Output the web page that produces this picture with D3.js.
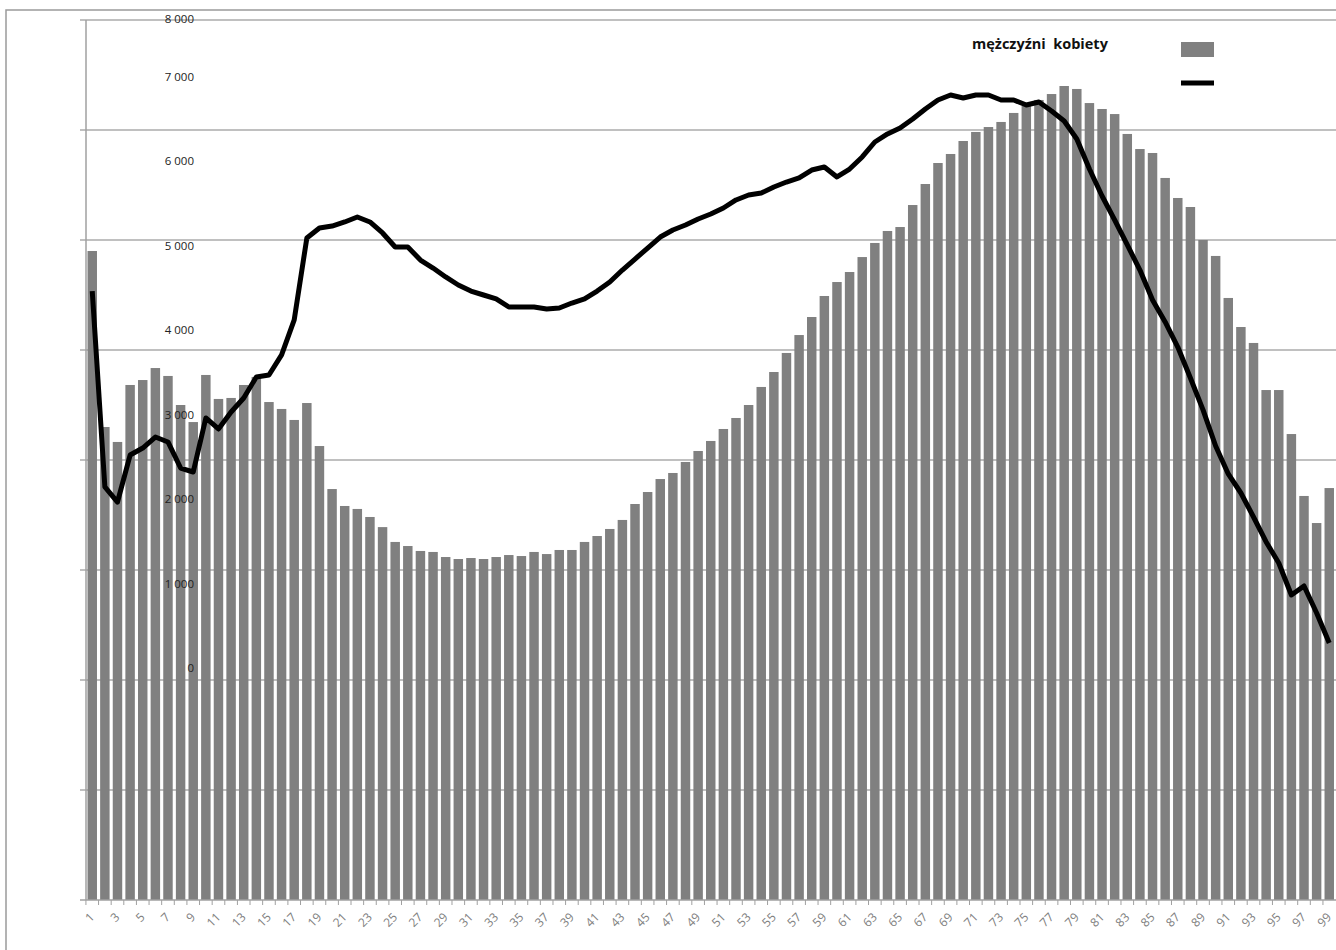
<!DOCTYPE html>
<html>
<head>
<meta charset="utf-8">
<script src="https://cdnjs.cloudflare.com/ajax/libs/d3/7.8.5/d3.min.js"></script>
<style>
  body { margin: 0; background: #fff; }
  text { font-family: "Open Sans", "Liberation Sans", sans-serif; }
</style>
</head>
<body>
<svg></svg>
<script>
var WIDTH = 1336;
var HEIGHT = 950;

// wiek 1..99
var categories = d3.range(1, 100);

// mezczyzni (slupki)
var menValues = [
  5900, 4300, 4164, 4682, 4727, 4836, 4764, 4500, 4345, 4773,
  4555, 4564, 4682, 4755, 4527, 4464, 4364, 4518, 4127, 3736,
  3582, 3555, 3482, 3390, 3255, 3218, 3173, 3164, 3118, 3100,
  3109, 3100, 3118, 3136, 3127, 3164, 3145, 3182, 3182, 3255,
  3309, 3373, 3455, 3600, 3709, 3827, 3882, 3982, 4082, 4173,
  4282, 4382, 4500, 4664, 4800, 4973, 5136, 5300, 5491, 5618,
  5709, 5845, 5973, 6082, 6118, 6318, 6509, 6700, 6782, 6900,
  6982, 7027, 7073, 7155, 7218, 7273, 7327, 7400, 7373, 7245,
  7191, 7145, 6964, 6827, 6791, 6564, 6382, 6300, 6000, 5855,
  5473, 5209, 5064, 4636, 4636, 4236, 3673, 3427, 3745
];

// kobiety (linia)
var womenValues = [
  5536, 3755, 3618, 4045, 4109, 4209, 4164, 3927, 3891, 4382,
  4282, 4436, 4564, 4755, 4773, 4955, 5273, 6018, 6109, 6127,
  6164, 6209, 6164, 6064, 5936, 5936, 5818, 5745, 5664, 5591,
  5536, 5500, 5464, 5391, 5391, 5391, 5373, 5382, 5427, 5464,
  5536, 5618, 5727, 5827, 5927, 6027, 6091, 6136, 6191, 6236,
  6291, 6364, 6409, 6427, 6482, 6527, 6564, 6636, 6664, 6573,
  6645, 6755, 6891, 6964, 7018, 7100, 7191, 7273, 7318, 7291,
  7318, 7318, 7273, 7273, 7227, 7255, 7173, 7082, 6918, 6645,
  6400, 6182, 5955, 5727, 5455, 5255, 5027, 4745, 4455, 4127,
  3873, 3700, 3482, 3255, 3064, 2773, 2855, 2609, 2336
];

var yTickValues = [0, 1000, 2000, 3000, 4000, 5000, 6000, 7000, 8000];
var yTickLabels = ['0', '1 000', '2 000', '3 000', '4 000', '5 000', '6 000', '7 000', '8 000'];
var legendLabels = ['mężczyźni', 'kobiety'];

var svg = d3.select('svg')
  .attr('width', WIDTH)
  .attr('height', HEIGHT);

// ramka wykresu
svg.append('rect')
  .attr('x', 6).attr('y', 10)
  .attr('width', WIDTH + 20).attr('height', HEIGHT + 20)
  .attr('fill', 'none')
  .attr('stroke', '#9a9a9a')
  .attr('stroke-width', 1.5);

var xScale = d3.scaleBand()
  .domain(categories)
  .range([86, 1335.5])
  .paddingInner(0.25)
  .paddingOuter(0.12);

var yScale = d3.scaleLinear()
  .domain([0, 8000])
  .range([900, 20]);

// etykiety osi Y sa przesuniete wzgledem linii siatki
var labelScale = d3.scaleLinear()
  .domain([0, 7000, 8000])
  .range([668, 77, 19]);

// siatka
svg.append('g').selectAll('line')
  .data(yTickValues.filter(function(d){ return d > 0; }))
  .enter().append('line')
  .attr('x1', 80).attr('x2', WIDTH)
  .attr('y1', function(d){ return yScale(d); })
  .attr('y2', function(d){ return yScale(d); })
  .attr('stroke', '#ababab')
  .attr('stroke-width', 1.5);

// slupki
svg.append('g').selectAll('rect')
  .data(menValues)
  .enter().append('rect')
  .attr('x', function(d, i){ return xScale(categories[i]); })
  .attr('width', xScale.bandwidth())
  .attr('y', function(d){ return yScale(d); })
  .attr('height', function(d){ return yScale(0) - yScale(d); })
  .attr('fill', '#808080');

// os Y
svg.append('line')
  .attr('x1', 86).attr('x2', 86)
  .attr('y1', 20).attr('y2', 900)
  .attr('stroke', '#a0a0a0').attr('stroke-width', 1.5);

// os X
var step = xScale.step();
svg.append('line')
  .attr('x1', 80).attr('x2', WIDTH)
  .attr('y1', 900).attr('y2', 900)
  .attr('stroke', '#a0a0a0').attr('stroke-width', 1.5);

svg.append('g').selectAll('line')
  .data(categories)
  .enter().append('line')
  .attr('x1', function(d){ return xScale(d) - step * 0.125; })
  .attr('x2', function(d){ return xScale(d) - step * 0.125; })
  .attr('y1', 900).attr('y2', 905)
  .attr('stroke', '#a0a0a0').attr('stroke-width', 1);

svg.append('g').selectAll('text')
  .data(categories.filter(function(d){ return d % 2 === 1; }))
  .enter().append('text')
  .attr('transform', function(d){
    var cx = xScale(d) + xScale.bandwidth() / 2;
    return 'translate(' + cx + ',915) rotate(-45)';
  })
  .attr('text-anchor', 'end')
  .attr('dy', '0.35em')
  .attr('font-size', 12)
  .attr('fill', '#808080')
  .text(function(d){ return d; });

// etykiety Y
svg.append('g').selectAll('text')
  .data(yTickValues)
  .enter().append('text')
  .attr('x', 194)
  .attr('y', function(d){ return labelScale(d); })
  .attr('dy', '0.35em')
  .attr('text-anchor', 'end')
  .attr('font-size', 11.5)
  .attr('fill', '#222')
  .text(function(d, i){ return yTickLabels[i]; });

// linia kobiet
var line = d3.line()
  .x(function(d, i){ return xScale(categories[i]) + xScale.bandwidth() / 2; })
  .y(function(d){ return yScale(d); });

svg.append('path')
  .datum(womenValues)
  .attr('d', line)
  .attr('fill', 'none')
  .attr('stroke', '#000')
  .attr('stroke-width', 5)
  .attr('stroke-linejoin', 'round');

// legenda
svg.append('text')
  .attr('x', 972).attr('y', 49)
  .attr('font-size', 14.5)
  .attr('font-weight', 'bold')
  .attr('fill', '#111')
  .attr('xml:space', 'preserve')
  .text(legendLabels[0] + '  ' + legendLabels[1]);

svg.append('rect')
  .attr('x', 1181).attr('y', 42)
  .attr('width', 33).attr('height', 15)
  .attr('fill', '#808080');

svg.append('line')
  .attr('x1', 1181).attr('x2', 1214)
  .attr('y1', 83).attr('y2', 83)
  .attr('stroke', '#000')
  .attr('stroke-width', 5);
</script>
</body>
</html>
